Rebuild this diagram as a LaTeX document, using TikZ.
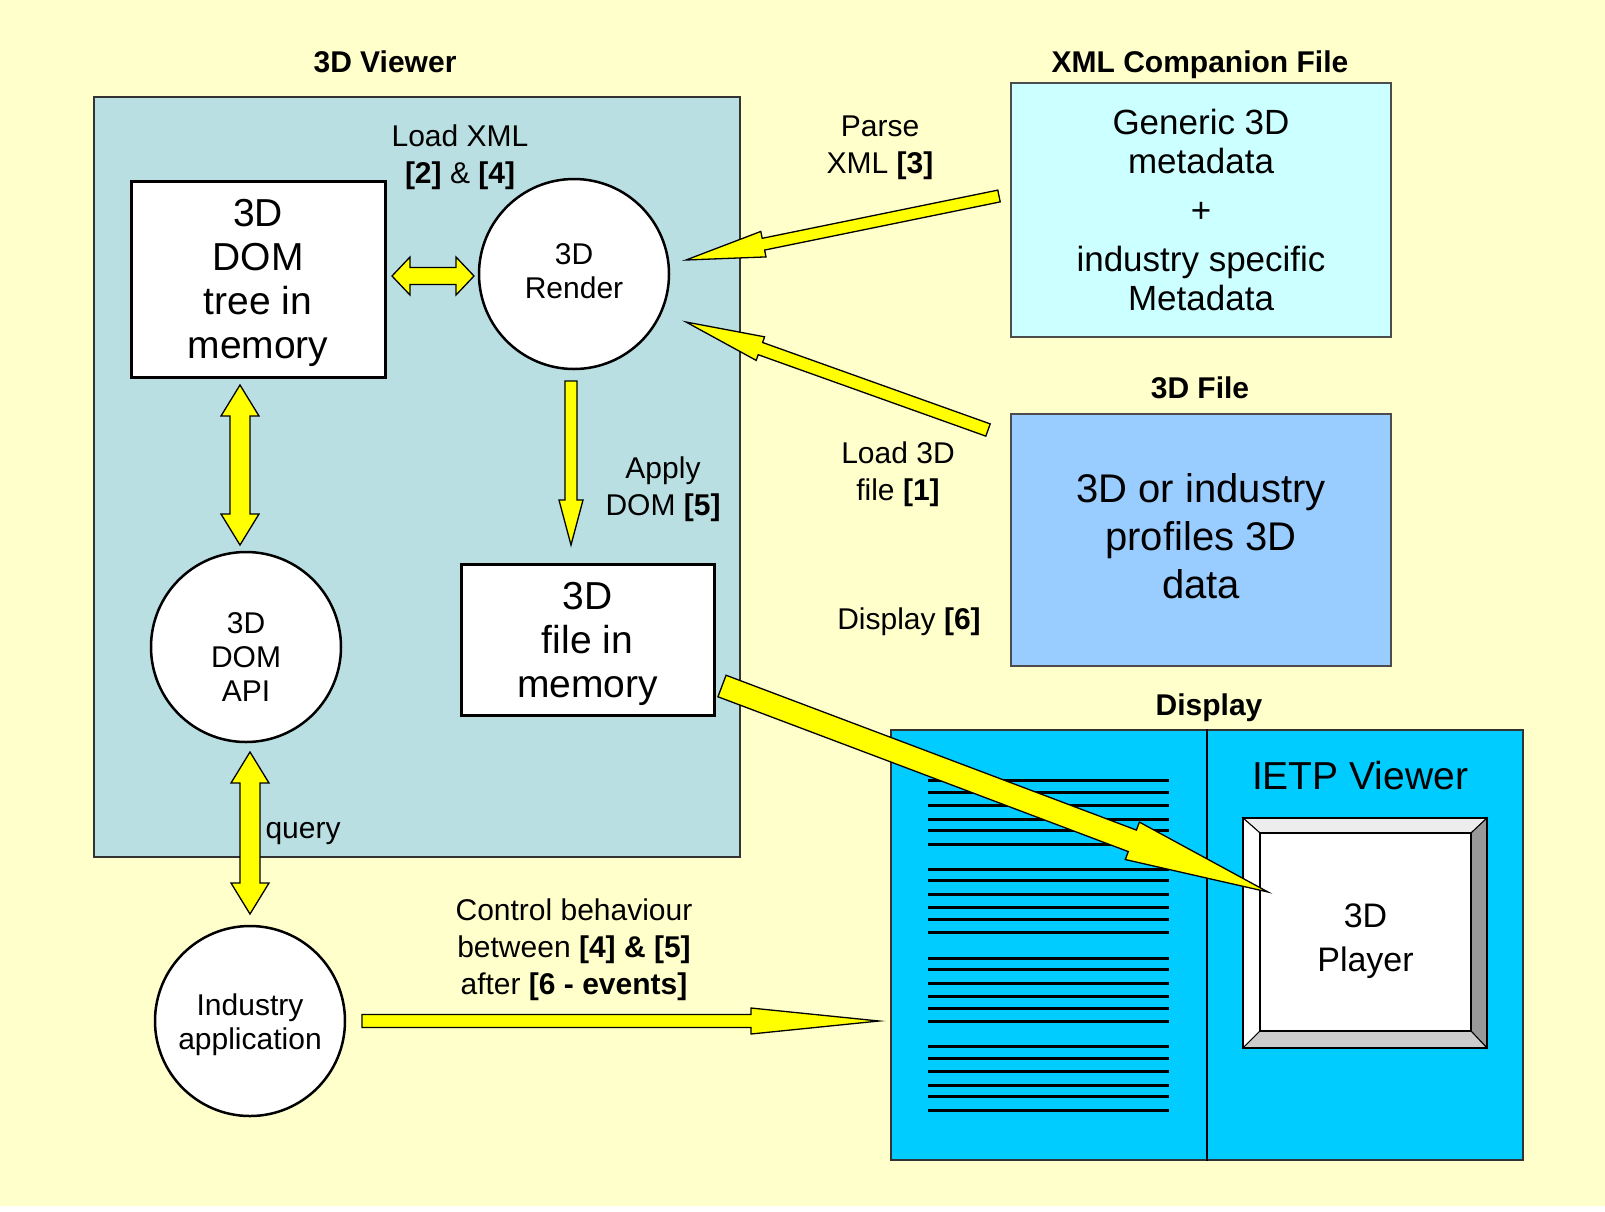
\documentclass[tikz,border=0pt]{standalone}
\usepackage{fontspec}
\setmainfont{Liberation Sans}
\usetikzlibrary{calc}
\definecolor{bgY}{HTML}{FFFFCC}
\definecolor{viewerC}{HTML}{BADFE2}
\definecolor{xmlC}{HTML}{CCFFFF}
\definecolor{fileC}{HTML}{99CCFF}
\definecolor{dispC}{HTML}{00CCFF}
\definecolor{arrowY}{HTML}{FFFF00}
\tikzset{
  panel/.style={draw=black!80, line width=2pt},
  wbox/.style={draw=black, line width=3pt, fill=white, inner sep=0pt, align=center},
  circ/.style={circle, draw=black, line width=2.5pt, fill=white, minimum size=190pt, inner sep=0pt},
  ctext/.style={align=center, font=\fontsize{30}{34}\selectfont},
  bigtext/.style={align=center, font=\fontsize{39}{44}\selectfont},
  ttl/.style={font=\fontsize{30}{36}\selectfont\bfseries},
  lbl/.style={align=center, font=\fontsize{30}{37}\selectfont},
  barrow/.style={fill=arrowY, draw=black, line width=1.3pt, line join=miter},
  txtline/.style={line width=3pt, draw=black}
}
\newcommand\blockarrow[5]{%
  \coordinate (bahd) at ($(#2)!#5!(#1)$);
  \filldraw[barrow] ($(#1)!#3!90:(#2)$) -- ($(bahd)!#3!90:(#2)$) -- ($(bahd)!#4!90:(#2)$) -- (#2) -- ($(bahd)!#4!-90:(#2)$) -- ($(bahd)!#3!-90:(#2)$) -- ($(#1)!#3!-90:(#2)$) -- cycle;}
\newcommand\dblockarrow[5]{%
  \coordinate (dbha) at ($(#1)!#5!(#2)$);
  \coordinate (dbhb) at ($(#2)!#5!(#1)$);
  \filldraw[barrow] (#1) -- ($(dbha)!#4!90:(#2)$) -- ($(dbha)!#3!90:(#2)$) -- ($(dbhb)!#3!90:(#2)$) -- ($(dbhb)!#4!90:(#2)$) -- (#2) -- ($(dbhb)!#4!-90:(#2)$) -- ($(dbhb)!#3!-90:(#2)$) -- ($(dbha)!#3!-90:(#2)$) -- ($(dbha)!#4!-90:(#2)$) -- cycle;}
\begin{document}
\begin{tikzpicture}[x=1pt,y=-1pt]
\useasboundingbox (0,0) rectangle (1605,1211);
\fill[bgY] (0,0) rectangle (1605,1206);

% ---- 3D Viewer panel ----
\node[ttl] (tviewer) at (385,62) {3D Viewer};
\node[panel, fill=viewerC, minimum width=646pt, minimum height=760pt, inner sep=0pt] (viewer) at (417,477) {};

\node[wbox, minimum width=254pt, minimum height=196pt] (dom) at (258,279) {};
\node[bigtext] (domtext) at ([yshift=-4pt]dom.center) {3D\\DOM\\tree in\\memory};
\node[circ] (render) at (574,274) {};
\node[ctext] (rendertext) at ([yshift=3pt]render.center) {3D\\Render};
\node[circ] (api) at (246,647) {};
\node[ctext] (apitext) at ([yshift=-10pt]api.center) {3D\\DOM\\API};
\node[circ] (ind) at (250,1021) {};
\node[ctext] (indtext) at ([yshift=-4pt]ind.center) {Industry\\application};
\node[wbox, minimum width=253pt, minimum height=151pt] (fmem) at (587.5,639.5) {};
\node[bigtext] (fmemtext) at ([yshift=-4pt]fmem.center) {3D\\file in\\memory};

\node[lbl] (lloadxml) at (460,157) {Load XML\\\textbf{[2]} \& \textbf{[4]}};
\node[lbl] (lapply) at (663,489) {Apply\\DOM \textbf{[5]}};
\node[lbl, anchor=west] (lquery) at (262,834) {query};

% ---- XML companion file ----
\node[ttl] (txml) at (1200,65) {XML Companion File};
\node[draw=black!70, line width=1.5pt, fill=xmlC, minimum width=380pt, minimum height=254pt, align=center, font=\fontsize{35}{39}\selectfont] (xml) at (1201,210) {Generic 3D\\metadata\\[10pt]+\\[10pt]industry specific\\Metadata};

% ---- 3D file ----
\node[ttl] (tfile) at (1200,388) {3D File};
\node[draw=black!70, line width=1.5pt, fill=fileC, minimum width=380pt, minimum height=252pt] (file3d) at (1201,540) {};
\node[align=center, font=\fontsize{40}{48}\selectfont] (file3dtext) at ([yshift=4pt]file3d.center) {3D or industry\\profiles 3D\\data};

\node[lbl] (lparse) at (880,148) {Parse\\XML \textbf{[3]}};
\node[lbl] (lload3d) at (898,474) {Load 3D\\file \textbf{[1]}};
\node[lbl] (ldisp) at (909,622) {Display \textbf{[6]}};
\node[lbl] (lctrl) at (574,950) {Control behaviour\\between \textbf{[4] \& [5]}\\after \textbf{[6 - events]}};

% ---- Display ----
\node[ttl] (tdisplay) at (1209,708) {Display};
\node[panel, fill=dispC, minimum width=632pt, minimum height=430pt, inner sep=0pt] (display) at (1207,945) {};
\draw[line width=2.5pt] (display.north) -- (display.south);
\foreach \g in {780.7,869,958,1046.7}
  \foreach \o in {0,11.7,25,38.3,50,63.7}
    \draw[txtline] (928,{\g+\o}) -- (1169,{\g+\o});
\node[font=\fontsize{39}{44}\selectfont] (ietp) at (1360,776) {IETP Viewer};

% 3D player with bevel
\filldraw[fill=black!7, draw=black, line width=1pt] (1243,818) -- (1487,818) -- (1471,833) -- (1260,833) -- cycle;
\filldraw[fill=white, draw=black, line width=1pt] (1243,818) -- (1260,833) -- (1260,1031) -- (1243,1048) -- cycle;
\filldraw[fill=black!40, draw=black, line width=1pt] (1487,818) -- (1487,1048) -- (1471,1031) -- (1471,833) -- cycle;
\filldraw[fill=black!20, draw=black, line width=1pt] (1243,1048) -- (1487,1048) -- (1471,1031) -- (1260,1031) -- cycle;
\draw[line width=2.5pt] (1243,818) rectangle (1487,1048);
\node[draw=black, line width=2.5pt, fill=white, minimum width=211pt, minimum height=198pt, inner sep=0pt] (player) at (1365.5,932) {};
\node[align=center, font=\fontsize{34}{44}\selectfont] (playertext) at ([yshift=-9pt]player.center) {3D\\Player};

% ---- arrows ----
\coordinate (domR) at (392,276);
\coordinate (renL) at (474,276);
\dblockarrow{domR}{renL}{8.5pt}{19pt}{18pt}
\coordinate (domB) at (240,385);
\coordinate (apiT) at (240,545);
\dblockarrow{domB}{apiT}{10pt}{19pt}{31pt}
\coordinate (apiB) at (250,752);
\coordinate (indT) at (250,914);
\dblockarrow{apiB}{indT}{10pt}{19pt}{31pt}

\coordinate (xmlTail) at (999,196);
\coordinate (renTipA) at (686,260);
\blockarrow{xmlTail}{renTipA}{6pt}{13pt}{79pt}
\coordinate (fileTail) at (988,430);
\coordinate (renTipB) at (686,322);
\blockarrow{fileTail}{renTipB}{6.5pt}{12.5pt}{79pt}
\coordinate (renB) at (571,381);
\coordinate (fmemT) at (571,545);
\blockarrow{renB}{fmemT}{6pt}{12pt}{45pt}
\coordinate (fmemR) at (722,686);
\coordinate (playerTip) at (1268,892);
\blockarrow{fmemR}{playerTip}{11.5pt}{20pt}{145pt}
\coordinate (indR) at (362,1021);
\coordinate (dispL) at (879,1021);
\blockarrow{indR}{dispL}{6.5pt}{13pt}{128pt}
\end{tikzpicture}
\end{document}
